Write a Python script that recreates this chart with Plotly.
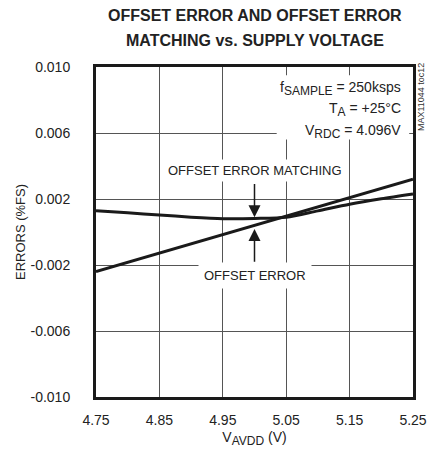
import plotly.graph_objects as go

FONT = "Liberation Sans, Arial, Helvetica, sans-serif"
INK = "#222"

# Data
v_offset = [4.75, 5.25]
offset_error = [-0.0024, 0.0032]

v_match = [4.75, 4.80, 4.85, 4.90, 4.95, 5.00, 5.05, 5.10, 5.15, 5.20, 5.25]
offset_matching = [0.00129, 0.00116, 0.00103, 0.00090, 0.00081, 0.00082, 0.00089, 0.00128, 0.00168, 0.00201, 0.00230]

x_ticks = [4.75, 4.85, 4.95, 5.05, 5.15, 5.25]
x_tick_labels = ["4.75", "4.85", "4.95", "5.05", "5.15", "5.25"]
y_ticks = [-0.010, -0.006, -0.002, 0.002, 0.006, 0.010]
y_tick_labels = ["-0.010", "-0.006", "-0.002", "0.002", "0.006", "0.010"]

fig = go.Figure()
fig.add_trace(go.Scatter(x=v_offset, y=offset_error, mode="lines",
                         line=dict(color="#1a1a1a", width=3), showlegend=False))
fig.add_trace(go.Scatter(x=v_match, y=offset_matching, mode="lines",
                         line=dict(color="#1a1a1a", width=3, shape="spline", smoothing=0.8),
                         showlegend=False))

# white box behind condition text
fig.add_shape(type="rect", xref="x", yref="y", x0=5.035, x1=5.244, y0=0.0056, y1=0.0095,
              fillcolor="white", line=dict(width=0), layer="between")

SUB = "<sub><span style='font-size:12px'>%s</span></sub>"
annots = [
    dict(x=5.235, y=0.0087, text="f" + SUB % "SAMPLE" + " = 250ksps"),
    dict(x=5.235, y=0.0074, text="T" + SUB % "A" + " = +25°C"),
    dict(x=5.235, y=0.0061, text="V" + SUB % "RDC" + " = 4.096V"),
]
for a in annots:
    fig.add_annotation(xref="x", yref="y", showarrow=False, yanchor="middle", xanchor="right",
                       font=dict(family=FONT, size=14, color=INK), **a)

# curve labels
fig.add_annotation(x=5.0, y=0.0037, xref="x", yref="y", text="OFFSET ERROR MATCHING",
                   showarrow=False, bgcolor="white", borderpad=3,
                   font=dict(family=FONT, size=13, color=INK))
fig.add_annotation(x=5.0, y=-0.00262, xref="x", yref="y", text="OFFSET ERROR",
                   showarrow=False, bgcolor="white", borderpad=5,
                   font=dict(family=FONT, size=13, color=INK))

# arrows
fig.add_annotation(x=5.0, y=0.00090, ax=5.0, ay=0.0030, xref="x", yref="y", axref="x", ayref="y",
                   text="", showarrow=True, arrowhead=2, arrowsize=1.6, arrowwidth=1.5, arrowcolor="#1a1a1a")
fig.add_annotation(x=5.0, y=0.00018, ax=5.0, ay=-0.0019, xref="x", yref="y", axref="x", ayref="y",
                   text="", showarrow=True, arrowhead=2, arrowsize=1.6, arrowwidth=1.5, arrowcolor="#1a1a1a")

# side label
fig.add_annotation(x=1.0, y=1.0, xref="paper", yref="paper", xshift=8, yshift=6, yanchor="top", xanchor="center",
                   text="MAX11044 toc12", textangle=-90, showarrow=False,
                   font=dict(family=FONT, size=9, color="#333"))

# title (two lines as separate annotations for spacing control)
fig.add_annotation(x=0.5, y=1.0, xref="paper", yref="paper", yshift=52, yanchor="middle",
                   text="<b>OFFSET ERROR AND OFFSET ERROR</b>", showarrow=False,
                   font=dict(family=FONT, size=16, color=INK))
fig.add_annotation(x=0.5, y=1.0, xref="paper", yref="paper", yshift=27, yanchor="middle",
                   text="<b>MATCHING vs. SUPPLY VOLTAGE</b>", showarrow=False,
                   font=dict(family=FONT, size=16, color=INK))

# y-axis title
fig.add_annotation(x=0.0, y=0.5, xref="paper", yref="paper", xshift=-76, xanchor="center",
                   text="ERRORS (%FS)", textangle=-90, showarrow=False,
                   font=dict(family=FONT, size=13, color=INK))

# page body has an 8px margin: shrink the figure so the plot lands in place
fig.update_layout(
    width=431, height=448,
    margin=dict(l=88, r=15, t=59, b=52),
    paper_bgcolor="white", plot_bgcolor="white",
    font=dict(family=FONT, color=INK),
)
fig.update_xaxes(range=[4.75, 5.25], tickvals=x_ticks, ticktext=x_tick_labels,
                 showgrid=True, gridcolor="#555", gridwidth=1, zeroline=False,
                 showline=True, linecolor="#1a1a1a", linewidth=3, mirror=True,
                 ticks="", tickfont=dict(family=FONT, size=14, color=INK),
                 ticklabelstandoff=8,
                 title=dict(text="V<sub><span style='font-size:12px'>AVDD</span></sub> (V)",
                            font=dict(family=FONT, size=14, color=INK), standoff=6))
fig.update_yaxes(range=[-0.010, 0.010], tickvals=y_ticks, ticktext=y_tick_labels,
                 showgrid=True, gridcolor="#555", gridwidth=1, zeroline=False,
                 showline=True, linecolor="#1a1a1a", linewidth=3, mirror=True,
                 ticks="", tickfont=dict(family=FONT, size=14, color=INK),
                 ticklabelstandoff=20)

fig.write_html("out.html")
